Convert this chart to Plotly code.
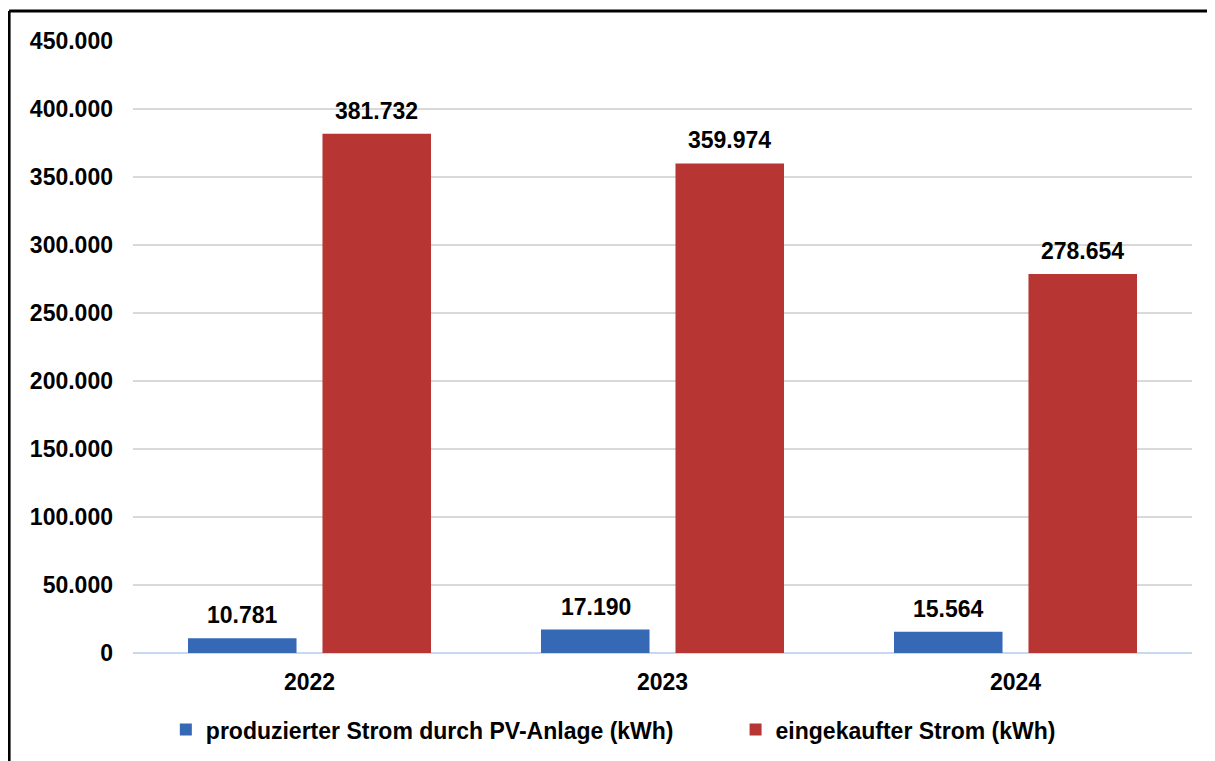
import plotly.graph_objects as go

years = ["2022", "2023", "2024"]
pv_strom = [10781, 17190, 15564]
gekauft_strom = [381732, 359974, 278654]
name_pv = "produzierter Strom durch PV-Anlage (kWh)"
name_gekauft = "eingekaufter Strom (kWh)"

FONT = "Liberation Sans, Arial, sans-serif"

fig = go.Figure()
fig.add_trace(go.Bar(x=years, y=pv_strom, name=name_pv, legend="legend", showlegend=True,
                     marker=dict(color="#3568b5", line=dict(width=0))))
fig.add_trace(go.Bar(x=years, y=gekauft_strom, name=name_gekauft, legend="legend2", showlegend=True,
                     marker=dict(color="#b73533", line=dict(width=0))))

# Werte ueber den Balken (x als Kategorie-Index)
annos = []
for vals, shift in [(pv_strom, -67), (gekauft_strom, 67)]:
    for i, v in enumerate(vals):
        annos.append(dict(x=i, y=v, xref="x", yref="y", text=f"{v:,}".replace(",", "."),
                          showarrow=False, xshift=shift, yshift=8, yanchor="bottom",
                          font=dict(family=FONT, size=23, color="black", weight="bold")))

leg = dict(orientation="h", xanchor="left", y=-0.09, yanchor="top",
           font=dict(size=23, weight="bold"))

fig.update_layout(
    width=1215, height=761,
    margin=dict(l=125, r=31, t=33, b=116, autoexpand=False),
    paper_bgcolor="white", plot_bgcolor="white",
    separators=",.",
    showlegend=True,
    barmode="group", bargap=0.238, bargroupgap=0.193,
    font=dict(family=FONT, size=23, color="black", weight="bold"),
    annotations=annos,
    legend=dict(leg, x=0.031),
    legend2=dict(leg, x=0.569),
    shapes=[
        dict(type="line", xref="paper", yref="paper", x0=-0.117, x1=-0.117, y0=-0.3, y1=1.049,
             line=dict(color="black", width=3)),
        dict(type="line", xref="paper", yref="paper", x0=-0.117, x1=1.1, y0=1.049, y1=1.049,
             line=dict(color="black", width=3)),
    ],
)
fig.update_yaxes(range=[0, 450000], dtick=50000, tickformat=",d",
                 showgrid=True, gridcolor="#d9d9d9", gridwidth=2,
                 zeroline=True, zerolinecolor="#c6d9f1", zerolinewidth=2,
                 showline=False, ticklabelstandoff=19)
fig.update_xaxes(type="category", range=[-0.5, 2.5], showline=False, ticklabelstandoff=13)

fig.write_html("out.html")
